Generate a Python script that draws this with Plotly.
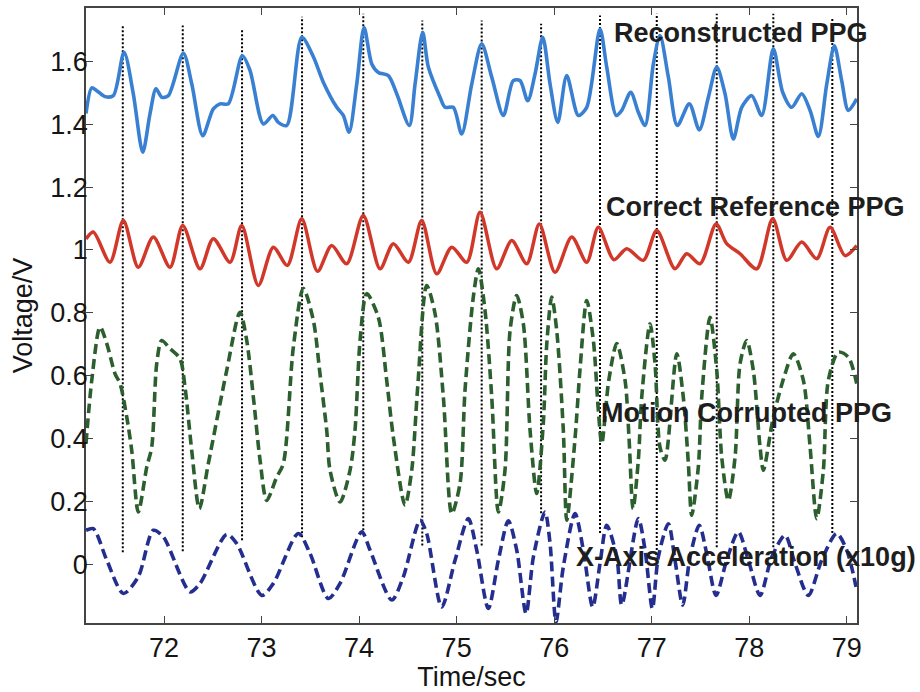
import plotly.graph_objects as go

# ---------------- data ----------------
recon_t = [71.200, 71.259, 71.310, 71.395, 71.480, 71.590, 71.685, 71.782, 71.856, 71.918,
           71.976, 72.044, 72.198, 72.284, 72.397, 72.505, 72.574, 72.659, 72.803, 72.882,
           73.018, 73.115, 73.172, 73.258, 73.412, 73.531, 73.633, 73.771, 73.838, 73.897,
           73.976, 74.051, 74.130, 74.197, 74.300, 74.386, 74.515, 74.574, 74.652, 74.710,
           74.830, 74.881, 74.966, 75.052, 75.155, 75.257, 75.360, 75.479, 75.581, 75.650,
           75.729, 75.804, 75.883, 75.958, 76.037, 76.129, 76.248, 76.334, 76.470, 76.539,
           76.637, 76.693, 76.785, 76.863, 76.932, 77.017, 77.085, 77.171, 77.263, 77.386,
           77.488, 77.581, 77.667, 77.752, 77.837, 77.923, 78.026, 78.128, 78.247, 78.343,
           78.436, 78.538, 78.624, 78.709, 78.795, 78.873, 78.948, 79.016, 79.102]
recon_v = [1.434, 1.516, 1.507, 1.488, 1.491, 1.629, 1.497, 1.311, 1.433, 1.513,
           1.486, 1.491, 1.626, 1.529, 1.364, 1.449, 1.465, 1.465, 1.618, 1.571,
           1.401, 1.428, 1.406, 1.396, 1.677, 1.615, 1.534, 1.454, 1.428, 1.375,
           1.528, 1.708, 1.592, 1.565, 1.555, 1.497, 1.396, 1.528, 1.693, 1.582,
           1.486, 1.454, 1.454, 1.369, 1.528, 1.656, 1.550, 1.428, 1.539, 1.539,
           1.475, 1.560, 1.677, 1.528, 1.406, 1.555, 1.428, 1.454, 1.703, 1.582,
           1.428, 1.444, 1.502, 1.438, 1.396, 1.592, 1.682, 1.550, 1.396, 1.465,
           1.382, 1.486, 1.582, 1.497, 1.353, 1.454, 1.491, 1.428, 1.640, 1.502,
           1.454, 1.497, 1.444, 1.361, 1.528, 1.650, 1.539, 1.444, 1.481]

ref_t = [71.200, 71.275, 71.446, 71.583, 71.736, 71.890, 72.062, 72.192, 72.369, 72.505,
         72.677, 72.797, 72.967, 73.121, 73.264, 73.412, 73.574, 73.719, 73.873, 74.043,
         74.215, 74.351, 74.505, 74.642, 74.796, 74.950, 75.104, 75.240, 75.411, 75.565,
         75.719, 75.848, 76.009, 76.180, 76.334, 76.453, 76.613, 76.744, 76.914, 77.052,
         77.239, 77.359, 77.496, 77.660, 77.769, 77.906, 78.077, 78.241, 78.385, 78.538,
         78.692, 78.829, 78.982, 79.102]
ref_v = [1.035, 1.057, 0.961, 1.094, 0.945, 1.041, 0.945, 1.078, 0.940, 1.036,
         0.961, 1.078, 0.887, 1.009, 0.951, 1.099, 0.932, 1.014, 0.956, 1.110,
         0.940, 1.020, 0.961, 1.094, 0.924, 1.009, 0.961, 1.120, 0.940, 1.030,
         0.956, 1.083, 0.929, 1.041, 0.961, 1.072, 0.969, 1.004, 0.967, 1.062,
         0.940, 0.988, 0.956, 1.083, 1.020, 0.988, 0.940, 1.099, 0.967, 1.025,
         0.972, 1.072, 0.982, 1.014]

motion_t = [71.200, 71.259, 71.344, 71.413, 71.498, 71.549, 71.618, 71.669, 71.736, 71.823,
            71.874, 71.925, 71.976, 72.062, 72.164, 72.215, 72.284, 72.362, 72.454, 72.643,
            72.779, 72.848, 72.920, 72.985, 73.053, 73.156, 73.223, 73.326, 73.428, 73.531,
            73.599, 73.668, 73.702, 73.805, 73.907, 73.958, 74.010, 74.078, 74.197, 74.283,
            74.351, 74.471, 74.540, 74.600, 74.693, 74.779, 74.864, 74.950, 75.035, 75.086,
            75.171, 75.223, 75.291, 75.360, 75.428, 75.496, 75.548, 75.616, 75.684, 75.753,
            75.821, 75.889, 75.924, 75.975, 76.026, 76.094, 76.129, 76.214, 76.265, 76.334,
            76.402, 76.453, 76.488, 76.560, 76.642, 76.727, 76.768, 76.809, 76.863, 76.898,
            76.983, 77.034, 77.085, 77.137, 77.257, 77.324, 77.376, 77.410, 77.478, 77.513,
            77.598, 77.667, 77.718, 77.786, 77.855, 77.906, 77.974, 78.042, 78.111, 78.145,
            78.247, 78.367, 78.452, 78.555, 78.624, 78.692, 78.760, 78.811, 78.914, 79.016,
            79.102]
motion_v = [0.384, 0.585, 0.755, 0.702, 0.606, 0.575, 0.468, 0.362, 0.166, 0.309,
            0.373, 0.638, 0.712, 0.686, 0.654, 0.564, 0.362, 0.177, 0.320, 0.617,
            0.802, 0.712, 0.520, 0.330, 0.203, 0.278, 0.320, 0.691, 0.877, 0.776,
            0.606, 0.426, 0.299, 0.198, 0.299, 0.426, 0.712, 0.861, 0.786, 0.585,
            0.405, 0.188, 0.300, 0.560, 0.887, 0.797, 0.532, 0.161, 0.257, 0.553,
            0.850, 0.940, 0.808, 0.532, 0.166, 0.299, 0.744, 0.855, 0.765, 0.426,
            0.225, 0.450, 0.700, 0.850, 0.744, 0.426, 0.140, 0.400, 0.620, 0.839,
            0.712, 0.490, 0.384, 0.585, 0.702, 0.585, 0.400, 0.177, 0.331, 0.532,
            0.765, 0.638, 0.373, 0.331, 0.670, 0.532, 0.320, 0.156, 0.309, 0.532,
            0.786, 0.617, 0.341, 0.203, 0.341, 0.638, 0.712, 0.617, 0.373, 0.299,
            0.468, 0.606, 0.670, 0.585, 0.373, 0.145, 0.299, 0.585, 0.675, 0.659,
            0.575]

accel_t = [71.200, 71.275, 71.413, 71.583, 71.736, 71.890, 71.993, 72.267, 72.369, 72.643,
           72.745, 73.002, 73.121, 73.377, 73.497, 73.685, 73.805, 74.027, 74.112, 74.335,
           74.454, 74.625, 74.693, 74.847, 74.984, 75.120, 75.206, 75.325, 75.428, 75.530,
           75.616, 75.712, 75.787, 75.906, 75.958, 76.019, 76.094, 76.214, 76.299, 76.395,
           76.470, 76.539, 76.642, 76.693, 76.863, 76.932, 77.007, 77.068, 77.171, 77.239,
           77.318, 77.393, 77.488, 77.564, 77.660, 77.769, 77.888, 77.991, 78.111, 78.231,
           78.367, 78.470, 78.606, 78.743, 78.897, 79.000, 79.095]
accel_v = [0.108, 0.113, 0.013, -0.093, -0.040, 0.108, 0.087, -0.088, -0.061, 0.095,
           0.066, -0.099, -0.061, 0.098, 0.034, -0.109, -0.061, 0.103, 0.045, -0.114,
           -0.040, 0.140, 0.098, -0.136, 0.013, 0.145, 0.045, -0.141, 0.013, 0.138,
           0.045, -0.157, 0.023, 0.166, 0.066, -0.183, -0.008, 0.161, 0.045, -0.136,
           0.002, 0.124, 0.023, -0.130, 0.145, 0.045, -0.141, 0.023, 0.129, 0.013,
           -0.130, 0.023, 0.124, 0.034, -0.099, 0.013, 0.103, 0.013, -0.099, 0.023,
           0.092, 0.002, -0.099, 0.013, 0.098, 0.045, -0.072]

# vertical dotted markers (reference PPG peaks)
marker_t = [71.577, 72.192, 72.800, 73.415, 74.043, 74.648, 75.257, 75.866, 76.470,
            77.052, 77.667, 78.247, 78.852]
marker_top = [1.714, 1.714, 1.704, 1.742, 1.752, 1.730, 1.730, 1.720, 1.746,
              1.752, 1.752, 1.752, 1.739]
marker_bottom = [0.038, 0.041, 0.076, 0.086, 0.108, 0.060, 0.060, 0.162, 0.099,
                 0.045, 0.054, 0.054, 0.099]

x_ticks = [72, 73, 74, 75, 76, 77, 78, 79]
y_ticks = [0, 0.2, 0.4, 0.6, 0.8, 1.0, 1.2, 1.4, 1.6]
y_tick_labels = ["0", "0.2", "0.4", "0.6", "0.8", "1", "1.2", "1.4", "1.6"]

labels = ["Reconstructed PPG", "Correct Reference PPG", "Motion Corrupted PPG",
          "X-Axis Acceleration (x10g)"]

# ---------------- figure ----------------
FONT = "Arial, Liberation Sans, Helvetica, sans-serif"
fig = go.Figure()

vx, vy = [], []
for t, b, tp in zip(marker_t, marker_bottom, marker_top):
    vx += [t, t, None]
    vy += [b, tp, None]
fig.add_trace(go.Scatter(x=vx, y=vy, mode="lines", hoverinfo="skip",
                         line=dict(color="#000000", width=2, dash="2px,2px"),
                         showlegend=False))

fig.add_trace(go.Scatter(x=recon_t, y=recon_v, mode="lines", name=labels[0],
                         line=dict(color="#3a80d2", width=3.6, shape="spline", smoothing=0.8)))
fig.add_trace(go.Scatter(x=ref_t, y=ref_v, mode="lines", name=labels[1],
                         line=dict(color="#d2382a", width=3.5, shape="spline", smoothing=0.8)))
fig.add_trace(go.Scatter(x=motion_t, y=motion_v, mode="lines", name=labels[2],
                         line=dict(color="#2c5f2e", width=3.6, dash="10px,5px",
                                   shape="spline", smoothing=0.8)))
fig.add_trace(go.Scatter(x=accel_t, y=accel_v, mode="lines", name=labels[3],
                         line=dict(color="#232e8e", width=3.6, dash="10px,5px",
                                   shape="spline", smoothing=0.8)))

label_pos = [(0.850, 0.959), (0.869, 0.676), (0.857, 0.342), (0.856, 0.107)]
for txt, (px, py) in zip(labels, label_pos):
    fig.add_annotation(text="<b>" + txt + "</b>", x=px, y=py, xref="paper", yref="paper",
                       showarrow=False, xanchor="center", yanchor="middle",
                       font=dict(family=FONT, size=27, color="#1e1e1e"))

axis_common = dict(showline=True, linecolor="#444444", linewidth=1.5, mirror="ticks",
                   ticks="inside", ticklen=7, tickwidth=1.3, tickcolor="#444444",
                   showgrid=False, zeroline=False, automargin=False,
                   tickfont=dict(family=FONT, size=27, color="#151515"))

fig.update_layout(
    width=920, height=692,
    margin=dict(l=86, r=63, t=8, b=69),
    paper_bgcolor="white", plot_bgcolor="white",
    showlegend=False,
    xaxis=dict(range=[71.2, 79.105], tickvals=x_ticks,
               title=dict(text="Time/sec", font=dict(family=FONT, size=27, color="#151515"),
                          standoff=0),
               **axis_common),
    yaxis=dict(range=[-0.187, 1.770], tickvals=y_ticks, ticktext=y_tick_labels,
               ticklabelstandoff=-9,
               title=dict(text="Voltage/V", font=dict(family=FONT, size=27, color="#151515"),
                          standoff=10),
               **axis_common),
)

fig.write_html("out.html", config={"displayModeBar": False},
               post_script="document.body.style.margin='0px';")
